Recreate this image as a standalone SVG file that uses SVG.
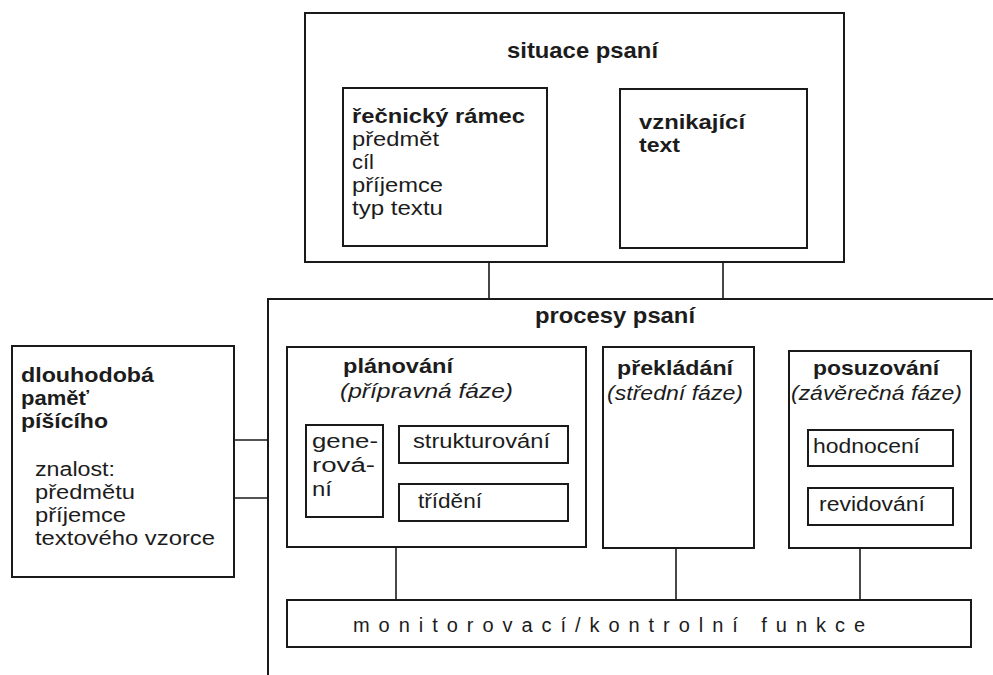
<svg xmlns="http://www.w3.org/2000/svg" width="993" height="675" viewBox="0 0 993 675">
<style>
.box{fill:#fff;stroke:#1a1a1a;stroke-width:2}
.ln{fill:none;stroke:#1a1a1a;stroke-width:1.6}
text{font-family:"Liberation Sans",Arial,sans-serif;font-size:19.5px;fill:#1c1c1c}
.b{font-weight:bold;font-size:20px}
.t{font-size:22px}
.i{font-style:italic;font-size:20px}
</style>
<rect width="993" height="675" fill="#fff"/>
<g id="connectors">
<line class="ln" x1="489" y1="262" x2="489" y2="299"/>
<line class="ln" x1="723" y1="263" x2="723" y2="299"/>
<line class="ln" x1="234" y1="440" x2="268" y2="440"/>
<line class="ln" x1="234" y1="498" x2="268" y2="498"/>
<line class="ln" x1="396" y1="547" x2="396" y2="600"/>
<line class="ln" x1="676" y1="548" x2="676" y2="600"/>
<line class="ln" x1="860" y1="548" x2="860" y2="600"/>
</g>
<g id="situace">
<rect class="box" x="305" y="13" width="539" height="249"/>
<text class="b t" x="507" y="58" textLength="151" lengthAdjust="spacingAndGlyphs">situace psaní</text>
</g>
<g id="recnicky">
<rect class="box" x="343" y="88" width="204" height="158"/>
<text class="b" x="352" y="123" textLength="173" lengthAdjust="spacingAndGlyphs">řečnický rámec</text>
<text x="352" y="146" textLength="87" lengthAdjust="spacingAndGlyphs">předmět</text>
<text x="352" y="169" textLength="22" lengthAdjust="spacingAndGlyphs">cíl</text>
<text x="352" y="192" textLength="91" lengthAdjust="spacingAndGlyphs">příjemce</text>
<text x="352" y="215" textLength="91" lengthAdjust="spacingAndGlyphs">typ textu</text>
</g>
<g id="vznikajici">
<rect class="box" x="620" y="89" width="187" height="159"/>
<text class="b" x="639" y="129" textLength="106" lengthAdjust="spacingAndGlyphs">vznikající</text>
<text class="b" x="639" y="152" textLength="41" lengthAdjust="spacingAndGlyphs">text</text>
</g>
<g id="procesy">
<path class="box" style="fill:none" d="M268,675 V299 H993"/>
<text class="b t" x="535" y="323" textLength="160" lengthAdjust="spacingAndGlyphs">procesy psaní</text>
</g>
<g id="dlouhodoba">
<rect class="box" x="12" y="346" width="222" height="231"/>
<text class="b" x="21" y="382" textLength="133" lengthAdjust="spacingAndGlyphs">dlouhodobá</text>
<text class="b" x="21" y="405" textLength="68" lengthAdjust="spacingAndGlyphs">paměť</text>
<text class="b" x="21" y="428" textLength="87" lengthAdjust="spacingAndGlyphs">píšícího</text>
<text x="35" y="476" textLength="80" lengthAdjust="spacingAndGlyphs">znalost:</text>
<text x="35" y="499" textLength="100" lengthAdjust="spacingAndGlyphs">předmětu</text>
<text x="35" y="522" textLength="91" lengthAdjust="spacingAndGlyphs">příjemce</text>
<text x="35" y="545" textLength="180" lengthAdjust="spacingAndGlyphs">textového vzorce</text>
</g>
<g id="planovani">
<rect class="box" x="287" y="347" width="299" height="200"/>
<text class="b" x="343" y="373" textLength="110" lengthAdjust="spacingAndGlyphs">plánování</text>
<text class="i" x="340" y="398" textLength="173" lengthAdjust="spacingAndGlyphs">(přípravná fáze)</text>
</g>
<g id="generovani">
<rect class="box" x="306" y="425" width="77" height="92"/>
<text x="312" y="448" textLength="66" lengthAdjust="spacingAndGlyphs">gene-</text>
<text x="312" y="472" textLength="63" lengthAdjust="spacingAndGlyphs">rová-</text>
<text x="312" y="496" textLength="20" lengthAdjust="spacingAndGlyphs">ní</text>
</g>
<g id="strukturovani">
<rect class="box" x="399" y="426" width="169" height="37"/>
<text x="413" y="448" textLength="137" lengthAdjust="spacingAndGlyphs">strukturování</text>
</g>
<g id="trideni">
<rect class="box" x="399" y="484" width="169" height="37"/>
<text x="418" y="508" textLength="64" lengthAdjust="spacingAndGlyphs">třídění</text>
</g>
<g id="prekladani">
<rect class="box" x="603" y="347" width="151" height="201"/>
<text class="b" x="617" y="375" textLength="116" lengthAdjust="spacingAndGlyphs">překládání</text>
<text class="i" x="607" y="400" textLength="136" lengthAdjust="spacingAndGlyphs">(střední fáze)</text>
</g>
<g id="posuzovani">
<rect class="box" x="789" y="351" width="182" height="197"/>
<text class="b" x="813" y="375" textLength="126" lengthAdjust="spacingAndGlyphs">posuzování</text>
<text class="i" x="791" y="400" textLength="171" lengthAdjust="spacingAndGlyphs">(závěrečná fáze)</text>
</g>
<g id="hodnoceni">
<rect class="box" x="808" y="430" width="145" height="36"/>
<text x="813" y="453" textLength="107" lengthAdjust="spacingAndGlyphs">hodnocení</text>
</g>
<g id="revidovani">
<rect class="box" x="808" y="488" width="145" height="37"/>
<text x="819" y="511" textLength="106" lengthAdjust="spacingAndGlyphs">revidování</text>
</g>
<g id="monitorovaci">
<rect class="box" x="287" y="600" width="684" height="47"/>
<text x="353" y="632" style="font-size:20px" textLength="512" lengthAdjust="spacing">monitorovací/kontrolní funkce</text>
</g>
</svg>
